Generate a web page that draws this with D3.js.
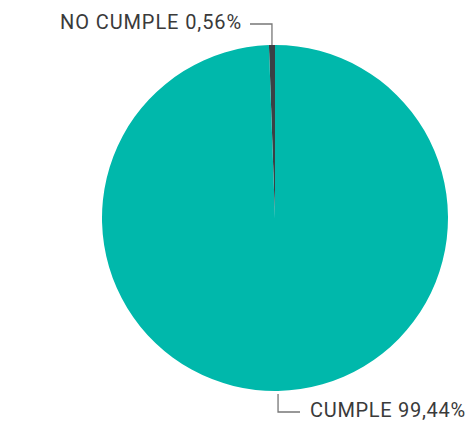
<!DOCTYPE html>
<html>
<head>
<meta charset="utf-8">
<script src="https://cdn.jsdelivr.net/npm/d3@7"></script>
<style>
  body { margin: 0; background: #fff; }
  text { font-family: "Roboto", "DejaVu Sans", sans-serif; fill: #3a3a3a; }
</style>
</head>
<body>
<script>
var categories = ["NO CUMPLE", "CUMPLE"];
var values = [0.56, 99.44];
var labels = ["NO CUMPLE 0,56%", "CUMPLE 99,44%"];
var colors = ["#3b4045", "#00b8ab"];

var width = 471, height = 422;
var cx = 275, cy = 218, r = 173;

var svg = d3.select("body").append("svg")
    .attr("width", width)
    .attr("height", height);

var g = svg.append("g").attr("transform", "translate(" + cx + "," + cy + ")");

// first slice ends at 12 o'clock, so start a bit before it
var total = d3.sum(values);
var start = -2 * Math.PI * values[0] / total;

var pie = d3.pie().sort(null).value(function(d) { return d; })
    .startAngle(start).endAngle(start + 2 * Math.PI);
var arc = d3.arc().innerRadius(0).outerRadius(r);

var arcs = pie(values);

g.selectAll("path.slice")
    .data(arcs)
    .enter().append("path")
    .attr("class", "slice")
    .attr("d", arc)
    .attr("fill", function(d, i) { return colors[i]; });

function edge(d) {
    var a = (d.startAngle + d.endAngle) / 2;
    return [r * Math.sin(a), -r * Math.cos(a)];
}

// top label (NO CUMPLE)
var p0 = edge(arcs[0]);
g.append("polyline")
    .attr("points", [[p0[0], p0[1]], [p0[0], -194], [-25, -194]].join(" "))
    .attr("fill", "none").attr("stroke", "#777").attr("stroke-width", 1.3);
g.append("text")
    .attr("x", -33).attr("y", -189)
    .attr("text-anchor", "end")
    .style("font-size", "20px")
    .style("letter-spacing", "0.9px")
    .text(labels[0]);

// bottom label (CUMPLE)
var p1 = edge(arcs[1]);
g.append("polyline")
    .attr("points", [[p1[0], p1[1] + 3], [p1[0], 194], [25, 194]].join(" "))
    .attr("fill", "none").attr("stroke", "#777").attr("stroke-width", 1.3);
g.append("text")
    .attr("x", 35).attr("y", 199)
    .attr("text-anchor", "start")
    .style("font-size", "20px")
    .style("letter-spacing", "0.7px")
    .text(labels[1]);
</script>
</body>
</html>
